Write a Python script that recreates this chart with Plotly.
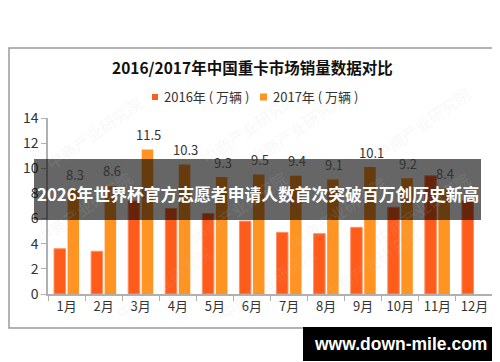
import plotly.graph_objects as go

months = ["1月", "2月", "3月", "4月", "5月", "6月", "7月", "8月", "9月", "10月", "11月", "12月"]
sales_2016 = [3.6, 3.4, 7.4, 6.8, 6.4, 5.8, 4.9, 4.8, 5.3, 6.9, 9.4, 7.4]
sales_2017 = [8.3, 8.6, 11.5, 10.3, 9.3, 9.5, 9.4, 9.1, 10.1, 9.2, 8.4, None]

title_text = "2016/2017年中国重卡市场销量数据对比"
legend_names = ["2016年 ( 万辆 )", "2017年 ( 万辆 )"]
banner_text = "2026年世界杯官方志愿者申请人数首次突破百万创历史新高"
site_text = "www.down-mile.com"

COL_2016 = "#FF5B1B"
COL_2017 = "#FF9422"
FONT = "Noto Sans CJK SC, Noto Sans, sans-serif"

# plot area in pixels
W, H = 500, 362
L, R, T, B = 40, 15, 110, 76
pw, ph = W - L - R, H - T - B


def px(x):
    return (x - L) / pw


def py(y):
    return (H - B - y) / ph


fig = go.Figure()
fig.add_trace(go.Bar(
    x=months, y=sales_2016, name=legend_names[0],
    marker=dict(color=COL_2016, line=dict(color="#FF8F66", width=1)),
))
fig.add_trace(go.Bar(
    x=months, y=sales_2017, name=legend_names[1],
    marker=dict(color=COL_2017, line=dict(width=0)),
))

shapes = [
    # chart panel border
    dict(type="rect", xref="paper", yref="paper", x0=px(1), x1=px(499), y0=py(320), y1=py(40),
         line=dict(color="#9a9a9a", width=1.5), fillcolor="rgba(0,0,0,0)", layer="below"),
    # legend squares
    dict(type="rect", xref="paper", yref="paper", x0=px(144), x1=px(150), y0=py(92), y1=py(86),
         line=dict(width=0), fillcolor=COL_2016),
    dict(type="rect", xref="paper", yref="paper", x0=px(252), x1=px(259), y0=py(92.5), y1=py(85.5),
         line=dict(width=0), fillcolor=COL_2017),
    # dark banner
    dict(type="rect", xref="paper", yref="paper", x0=px(26), x1=px(473), y0=py(212), y1=py(151),
         line=dict(width=0), fillcolor="rgba(0,0,0,0.6)", layer="above"),
    # bottom black bar
    dict(type="rect", xref="paper", yref="paper", x0=px(295), x1=px(491), y0=py(353), y1=py(319),
         line=dict(width=0), fillcolor="#000000", layer="above"),
]

annotations = []

# faint watermarks (drawn first, underneath)
for (wx, wy) in [(30, 80), (185, 75), (345, 75), (470, 70), (20, 200), (175, 245), (330, 250), (470, 200),
                 (100, 320), (260, 320), (420, 300)]:
    annotations.append(dict(text="中商产业研究院", xref="paper", yref="paper", x=px(wx), y=py(wy),
                            showarrow=False, textangle=-35,
                            font=dict(size=16, color="rgba(200,200,200,0.14)", family=FONT)))

# value labels above 2017 bars
for m, v in zip(months, sales_2017):
    if v is None:
        continue
    annotations.append(dict(text=f"{v:.1f}", x=m, y=v, xref="x", yref="y", xshift=8, yshift=15,
                            showarrow=False, font=dict(size=13, color="#333333", family=FONT),
                            xanchor="center", yanchor="middle"))

annotations += [
    # legend texts
    dict(text=legend_names[0], xref="paper", yref="paper", x=px(154), y=py(89), showarrow=False,
         font=dict(size=13, color="#333333", family=FONT), xanchor="left", yanchor="middle"),
    dict(text=legend_names[1], xref="paper", yref="paper", x=px(263), y=py(89), showarrow=False,
         font=dict(size=13, color="#333333", family=FONT), xanchor="left", yanchor="middle"),
    # title
    dict(text="<b>" + title_text + "</b>", xref="paper", yref="paper", x=px(244), y=py(59),
         showarrow=False, font=dict(size=15.5, color="#111111", family=FONT), xanchor="center", yanchor="middle"),
    # banner
    dict(text="<b>" + banner_text + "</b>", xref="paper", yref="paper", x=px(249.5), y=py(186),
         showarrow=False, font=dict(size=16.8, color="#ffffff", family=FONT), xanchor="center", yanchor="middle"),
    dict(text="<b>" + site_text + "</b>", xref="paper", yref="paper", x=px(392), y=py(336),
         showarrow=False, font=dict(size=17.5, color="#ffffff", family="Liberation Sans, Arial, sans-serif"),
         xanchor="center", yanchor="middle"),
]

fig.update_layout(
    width=W, height=H,
    margin=dict(l=L, r=R, t=T, b=B, autoexpand=False),
    paper_bgcolor="#ffffff", plot_bgcolor="#ffffff",
    barmode="group", bargap=0.27, bargroupgap=0.15,
    font=dict(family=FONT, color="#333333", size=13),
    showlegend=False,
    shapes=shapes,
    annotations=annotations,
    xaxis=dict(showline=True, linecolor="#b0b0b0", linewidth=1.5, ticks="outside", tickson="boundaries",
               ticklen=5, tickcolor="#b0b0b0", tickfont=dict(size=13, color="#333333"), showgrid=False,
               automargin=False),
    yaxis=dict(range=[0, 14], dtick=2, showline=True, linecolor="#b0b0b0", linewidth=1.5, ticks="outside",
               ticklen=5, tickcolor="#b0b0b0", tickfont=dict(size=14, color="#333333"), showgrid=False,
               zeroline=False, automargin=False),
)

fig.write_html("out.html")
